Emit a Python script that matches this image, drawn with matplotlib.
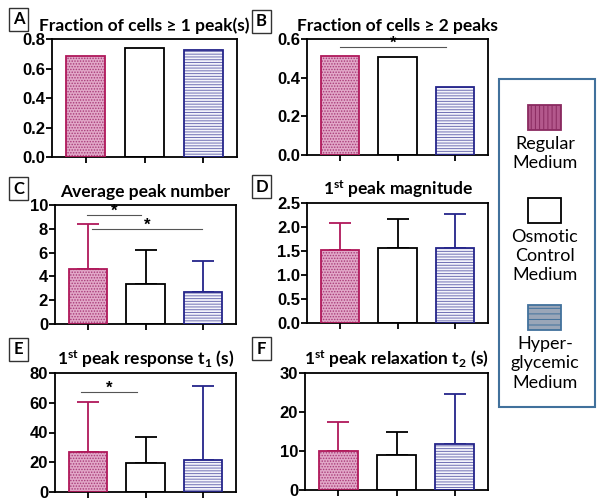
import numpy as np
import matplotlib
matplotlib.use("Agg")
import matplotlib.pyplot as plt
from matplotlib.patches import Rectangle

plt.rcParams['font.family'] = ['Liberation Sans', 'DejaVu Sans']
plt.rcParams['mathtext.fontset'] = 'custom'
plt.rcParams['mathtext.rm'] = 'Lato'
plt.rcParams['mathtext.bf'] = 'Lato:bold'
plt.rcParams['hatch.linewidth'] = 0.7

groups = ['Regular Medium', 'Osmotic Control Medium', 'Hyper-glycemic Medium']

# panel data: means and upper SD
frac1_mean = [0.686, 0.736, 0.723]
frac2_mean = [0.51, 0.507, 0.354]
peaknum_mean = [4.59, 3.36, 2.69]
peaknum_err = [3.81, 2.86, 2.63]
mag_mean = [1.53, 1.56, 1.56]
mag_err = [0.55, 0.61, 0.72]
t1_mean = [27.0, 19.8, 21.2]
t1_err = [33.4, 17.2, 50.0]
t2_mean = [10.1, 8.9, 11.7]
t2_err = [7.4, 6.0, 13.0]

# significance bars: (from, to, height)
sig_B = [(0, 1.85, 0.557)]
sig_C = [(-0.02, 0.93, 9.16), (0.07, 1.98, 7.95)]
sig_E = [(-0.12, 0.86, 67.2)]

W, H = 600, 501
fig = plt.figure(figsize=(6, 5.01), dpi=100)

edge_cols = ['#b0185a', 'black', '#24248a']
face_cols = ['#e2a8c8', 'white', '#f4f4fb']
hatch_cols = ['#a83a78', 'white', '#7070b4']
hatches = ['......', None, '------']


def add_ax(l, r, t, b):
    return fig.add_axes([l / W, 1 - b / H, (r - l) / W, (b - t) / H])


def panel(ax, means, errs, ymax, step, fmt, title, sigs=()):
    x = np.arange(3)
    for i in range(3):
        ax.bar(x[i], means[i], width=0.67, color=face_cols[i], hatch=hatches[i],
               edgecolor=hatch_cols[i], linewidth=0, zorder=2)
        ax.bar(x[i], means[i], width=0.67, fill=False, edgecolor=edge_cols[i],
               linewidth=1.3, zorder=3)
        if errs is not None:
            ax.errorbar(x[i], means[i], yerr=[[0], [errs[i]]], color=edge_cols[i],
                        capsize=8, elinewidth=1.3, capthick=1.3, zorder=1)
    for (a, b, h) in sigs:
        ax.plot([a, b], [h, h], color='#555555', lw=0.8, zorder=4)
        ax.text((a + b) / 2, h - ymax * 0.03, '*', ha='center', va='bottom',
                fontsize=12, fontweight='bold')
    ax.set_xlim(-0.57, 2.57)
    ax.set_ylim(0, ymax)
    ticks = np.arange(0, ymax + step / 2, step)
    ax.set_yticks(ticks)
    ax.set_yticklabels([fmt.format(t) for t in ticks],
                       fontdict={'fontsize': 12, 'fontweight': 'bold'})
    ax.set_xticks(x)
    ax.set_xticklabels([])
    ax.tick_params(axis='y', width=1.3, length=4, pad=1)
    ax.tick_params(axis='x', width=1.3, length=4)
    for s in ax.spines.values():
        s.set_linewidth(1.3)
    ax.set_title(title, fontsize=12.5, fontweight='bold', family='Lato', pad=6)


def letter_box(letter, l, t, w=19, h=23):
    fig.patches.append(Rectangle((l / W, 1 - (t + h) / H), w / W, h / H,
                                 transform=fig.transFigure, fill=False,
                                 edgecolor='#333333', lw=1))
    fig.text((l + w / 2) / W, 1 - (t + h / 2) / H, letter, ha='center', va='center',
             fontsize=12, fontweight='bold', family='Lato')


axA = add_ax(52, 237, 39, 157)
panel(axA, frac1_mean, None, 0.8, 0.2, '{:.1f}', 'Fraction of cells \u2265 1 peak(s)')
axB = add_ax(307, 488, 39, 155)
panel(axB, frac2_mean, None, 0.6, 0.2, '{:.1f}', 'Fraction of cells \u2265 2 peaks', sig_B)
axC = add_ax(55, 236, 205, 324)
panel(axC, peaknum_mean, peaknum_err, 10, 2, '{:.0f}', 'Average peak number', sig_C)
axD = add_ax(307, 488, 203, 323)
panel(axD, mag_mean, mag_err, 2.5, 0.5, '{:.1f}', r'$\mathbf{1^{st}}$ peak magnitude')
axE = add_ax(55, 236, 373, 492)
panel(axE, t1_mean, t1_err, 80, 20, '{:.0f}', r'$\mathbf{1^{st}}$ peak response $\mathbf{t_1}$ (s)', sig_E)
axF = add_ax(305, 488, 373, 490)
panel(axF, t2_mean, t2_err, 30, 10, '{:.0f}', r'$\mathbf{1^{st}}$ peak relaxation $\mathbf{t_2}$ (s)')

letter_box('A', 9, 8)
letter_box('B', 252, 10)
letter_box('C', 9, 177)
letter_box('D', 252, 175)
letter_box('E', 9, 338)
letter_box('F', 252, 337)

# legend box
fig.patches.append(Rectangle((499 / W, 1 - 407 / H), 96 / W, 328 / H,
                             transform=fig.transFigure, fill=False,
                             edgecolor='#41719c', lw=1.5))
leg_face = ['#b3588c', 'white', '#9aa6b8']
leg_edge = ['#8a2a60', 'black', '#41719c']
leg_hatch = ['||||', None, '---']
leg_top = [105, 198, 305]
leg_text = ['Regular\nMedium', 'Osmotic\nControl\nMedium', 'Hyper-\nglycemic\nMedium']
for i in range(3):
    fig.patches.append(Rectangle((528 / W, 1 - (leg_top[i] + 25) / H), 33 / W, 25 / H,
                                 transform=fig.transFigure, facecolor=leg_face[i],
                                 hatch=leg_hatch[i], edgecolor=leg_edge[i], lw=1.3))
    fig.text(545 / W, 1 - (leg_top[i] + 31) / H, leg_text[i], ha='center', va='top',
             fontsize=13, family='Lato', linespacing=1.25)

fig.savefig('out.png', dpi=100)
